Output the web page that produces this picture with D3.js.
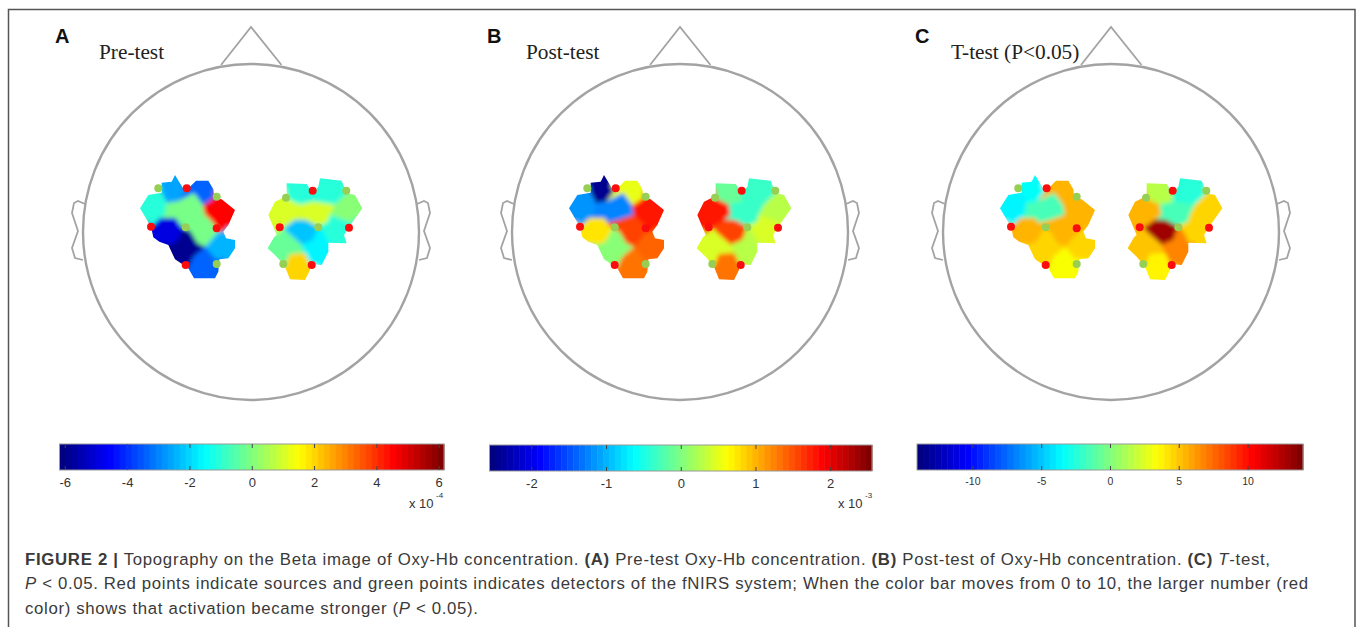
<!DOCTYPE html>
<html>
<head>
<meta charset="utf-8">
<script src="https://cdnjs.cloudflare.com/ajax/libs/d3/7.8.5/d3.min.js"></script>
<style>
  html, body { margin: 0; padding: 0; background: #fff; }
  text { fill: #333; }
  .bar-tick line { stroke: #444; stroke-width: 1; }
</style>
</head>
<body>
<div id="vis"></div>
<script>
// Optode positions in head units (head radius = 168, origin at head centre, y down)
var sourcesLeft = [[-64.3, -43.7], [-100, -5.3], [-34.3, -3.7], [-65.3, 33]];
var detectorsLeft = [[-92.7, -43.7], [-34.3, -35.3], [-65.3, -4.7], [-34.3, 32]];
var sourcesRight = [[61.7, -41.3], [28.7, -4.7], [98, -4.3], [60.7, 33]];
var detectorsRight = [[35, -34.3], [95.3, -41.3], [67.3, -4.7], [32.3, 32]];

// Channel patches traced on a grid of 1/3 head unit, one polygon per channel
var cellsLeft = [
  [[125, 98], [125, 68], [155, 65], [165, 45], [183, 75], [195, 95], [172, 125], [140, 130]],
  [[195, 95], [228, 62], [265, 62], [280, 88], [283, 115], [250, 137], [222, 100], [172, 125]],
  [[60, 145], [85, 105], [125, 98], [140, 130], [135, 165], [121, 175], [111, 185], [93, 200]],
  [[140, 130], [172, 125], [222, 100], [250, 137], [255, 165], [212, 180], [176, 190], [166, 175], [121, 175], [135, 165]],
  [[250, 137], [283, 115], [305, 118], [345, 150], [325, 195], [310, 215], [296, 215], [276, 185], [255, 165]],
  [[93, 200], [111, 185], [121, 175], [166, 175], [176, 190], [191, 205], [171, 245], [145, 255], [118, 245], [100, 232]],
  [[212, 180], [255, 165], [276, 185], [296, 215], [256, 262], [231, 250], [211, 215], [191, 205], [176, 190]],
  [[145, 255], [171, 245], [191, 205], [211, 215], [231, 250], [256, 262], [221, 290], [205, 325], [165, 298]],
  [[296, 215], [310, 215], [318, 235], [345, 240], [345, 265], [325, 295], [298, 298], [285, 297], [256, 262]],
  [[205, 325], [221, 290], [256, 262], [285, 297], [298, 298], [295, 335], [285, 355], [222, 355]]
];
var cellsRight = [
  [[500, 70], [560, 72], [578, 100], [580, 125], [540, 135], [503, 118], [500, 108]],
  [[578, 100], [595, 80], [600, 55], [665, 62], [680, 100], [645, 135], [580, 125]],
  [[445, 165], [465, 125], [500, 108], [503, 118], [540, 135], [545, 165], [525, 180], [490, 205], [470, 225]],
  [[540, 135], [580, 125], [645, 135], [630, 165], [625, 185], [595, 200], [555, 180], [525, 180], [545, 165]],
  [[645, 135], [680, 100], [705, 105], [727, 145], [695, 190], [630, 165]],
  [[490, 205], [525, 180], [555, 180], [595, 200], [580, 240], [545, 255], [505, 220]],
  [[595, 200], [625, 185], [630, 165], [695, 190], [672, 225], [680, 250], [625, 248], [610, 215]],
  [[470, 225], [490, 205], [505, 220], [545, 255], [555, 280], [510, 283], [495, 320], [470, 290], [443, 265], [462, 232]],
  [[595, 200], [610, 215], [625, 248], [625, 275], [605, 315], [570, 312], [555, 280], [545, 255], [580, 240]],
  [[495, 320], [510, 283], [555, 280], [570, 312], [570, 330], [555, 360], [510, 358]]
];

// Channel values, same order as the patches above (colour bar units)
var preLeft = [-2.6, -3.3, -1.0, -0.1, 4.6, -4.9, -0.1, -5.9, -2.5, -3.4];
var preRight = [-1.1, -1.1, 1.1, 1.1, 0, -2.3, -1.1, -0.2, -1.7, 2.0];
var postLeft = [-2.45, 0.5, -1.18, -1.28, 1.8, 0.72, 1.54, 0, 1.4, 1.28];
var postRight = [-0.15, -0.4, 1.8, -0.4, 0.25, 1.54, 0.46, 0.42, 0.25, 1.28];
var tLeft = [-3.5, 5.6, -3.6, -1.7, 5.6, 5.6, 5.6, 4.5, 4.5, 3.5];
var tRight = [1.4, -2.2, 5.6, -1.7, 4.8, 13, 4.8, 5.2, 6.7, 3.9];

// Head drawing, head units
var nosePoints = [[-30, -167], [0, -205], [30.5, -167]];
var earPoints = [[-166, -28], [-173, -31], [-177, -29], [-179, -19], [-173, -1], [-179, 16], [-176, 26], [-168, 28]];

// Colour bars
var preTicks = [-6, -4, -2, 0, 2, 4, 6];
var postTicks = [-2, -1, 0, 1, 2];
var tTicks = [-10, -5, 0, 5, 10];
var jetColors = ["#000080", "#0000ff", "#00ffff", "#ffff00", "#ff0000", "#800000"];
var jetStops = [0, 0.125, 0.375, 0.625, 0.875, 1];

var panels = [
  {letter: "A", letterX: 55, title: "Pre-test", titleX: 99, cx: 251, left: preLeft, right: preRight, max: 6.17,
   barX: [59.5, 444], barY: 444, ticks: preTicks, tickFont: 13, exp: "-4", expX: 409},
  {letter: "B", letterX: 487, title: "Post-test", titleX: 526, cx: 680, left: postLeft, right: postRight, max: 2.56,
   barX: [489.5, 872], barY: 445, ticks: postTicks, tickFont: 13, exp: "-3", expX: 838},
  {letter: "C", letterX: 915, title: "T-test (P<0.05)", titleX: 951, cx: 1111, left: tLeft, right: tRight, max: 14.03,
   barX: [917, 1303], barY: 444, ticks: tTicks, tickFont: 10.5, exp: null}
];

var width = 1357, height = 627;
var headR = 168, headCy = 232;

var svg = d3.select("#vis").append("svg")
    .attr("width", width)
    .attr("height", height)
    .style("display", "block");

var defs = svg.append("defs");
var blur = defs.append("filter").attr("id", "soften")
    .attr("x", "-20%").attr("y", "-20%").attr("width", "140%").attr("height", "140%");
blur.append("feGaussianBlur").attr("stdDeviation", 2);

// jet colour map, 64 steps like the matlab one
var jet = d3.scaleLinear().domain(jetStops).range(jetColors).interpolate(d3.interpolateRgb);
var levels = d3.range(64);

// tracing grid to head units
var gridX = d3.scaleLinear().domain([0, 3]).range([-131, -130]);
var gridY = d3.scaleLinear().domain([0, 3]).range([-72, -71]);

// outer frame, open at the bottom
svg.append("path")
    .attr("d", d3.line()([[8.5, height], [8.5, 9.5], [1355, 9.5], [1355, height]]))
    .attr("fill", "none")
    .attr("stroke", "#555")
    .attr("stroke-width", 1.5);

panels.forEach(function(p, i) {
  var g = svg.append("g");
  var x = d3.scaleLinear().domain([-headR, headR]).range([p.cx - headR, p.cx + headR]);
  var y = d3.scaleLinear().domain([-headR, headR]).range([headCy - headR, headCy + headR]);
  var line = d3.line().x(function(d) { return x(d[0]); }).y(function(d) { return y(d[1]); });
  var cellLine = d3.line()
      .x(function(d) { return x(gridX(d[0])); })
      .y(function(d) { return y(gridY(d[1])); })
      .curve(d3.curveLinearClosed);
  var color = function(v) {
    var t = (v + p.max) / (2 * p.max);
    return jet(Math.min(63, Math.floor(t * 64)) / 63);
  };

  // panel letter and title
  g.append("text").attr("x", p.letterX).attr("y", 43)
      .style("font-family", "'Liberation Sans', sans-serif")
      .style("font-weight", "bold").style("font-size", "20px").style("fill", "#111")
      .text(p.letter);
  g.append("text").attr("x", p.titleX).attr("y", 59)
      .style("font-family", "'Liberation Serif', serif")
      .style("font-size", "21.3px").style("fill", "#222")
      .text(p.title);

  // head
  var headG = g.append("g").attr("fill", "none").attr("stroke", "#a3a3a3");
  headG.append("circle").attr("cx", x(0)).attr("cy", y(0)).attr("r", x(headR) - x(0)).attr("stroke-width", 2.4);
  headG.append("path").attr("d", line(nosePoints)).attr("stroke-width", 1.8);
  headG.append("path").attr("d", line(earPoints)).attr("stroke-width", 1.8);
  headG.append("path").attr("d", line(earPoints.map(function(d) { return [-d[0], d[1]]; }))).attr("stroke-width", 1.8);

  // one hemisphere: patch per channel, softened and cut back to the patches' own edge
  var hemispheres = [
    {sources: sourcesLeft, detectors: detectorsLeft, cells: cellsLeft, values: p.left},
    {sources: sourcesRight, detectors: detectorsRight, cells: cellsRight, values: p.right}
  ];
  hemispheres.forEach(function(h, j) {
    var clipId = "clip-" + i + "-" + j;
    defs.append("clipPath").attr("id", clipId)
        .selectAll("path").data(h.cells).enter().append("path")
        .attr("d", function(d) { return cellLine(d); });

    var soft = g.append("g").attr("clip-path", "url(#" + clipId + ")")
      .append("g").attr("filter", "url(#soften)");
    // fat strokes underneath so the blur does not fade at the outer edge
    soft.selectAll(".under").data(h.values).enter().append("path")
        .attr("class", "under")
        .attr("d", function(d, k) { return cellLine(h.cells[k]); })
        .attr("fill", "none")
        .attr("stroke", function(d) { return color(d); })
        .attr("stroke-width", 14);
    soft.selectAll(".cell").data(h.values).enter().append("path")
        .attr("class", "cell")
        .attr("d", function(d, k) { return cellLine(h.cells[k]); })
        .attr("fill", function(d) { return color(d); })
        .attr("stroke", function(d) { return color(d); })
        .attr("stroke-width", 0.5);

    // optodes
    g.selectAll(null).data(h.detectors).enter().append("circle")
        .attr("cx", function(d) { return x(d[0]); })
        .attr("cy", function(d) { return y(d[1]); })
        .attr("r", 4)
        .attr("fill", "#97cf55");
    g.selectAll(null).data(h.sources).enter().append("circle")
        .attr("cx", function(d) { return x(d[0]); })
        .attr("cy", function(d) { return y(d[1]); })
        .attr("r", 4)
        .attr("fill", "#fb0d0d");
  });

  // colour bar
  var barH = 26;
  var bx = d3.scaleLinear().domain([-p.max, p.max]).range(p.barX);
  var band = d3.scaleBand().domain(levels).range(p.barX);
  var barG = g.append("g").attr("transform", "translate(0," + p.barY + ")");
  barG.selectAll("rect").data(levels).enter().append("rect")
      .attr("x", function(d) { return band(d); })
      .attr("y", 0)
      .attr("width", band.bandwidth() + 0.5)
      .attr("height", barH)
      .attr("fill", function(d) { return jet(d / 63); });
  barG.append("rect")
      .attr("x", p.barX[0]).attr("y", 0)
      .attr("width", p.barX[1] - p.barX[0]).attr("height", barH)
      .attr("fill", "none").attr("stroke", "#999").attr("stroke-width", 1);

  var bottomAxis = d3.axisBottom(bx).tickValues(p.ticks).tickSize(-4).tickPadding(8)
      .tickFormat(function(d) { return String(d); });
  var topAxis = d3.axisTop(bx).tickValues(p.ticks).tickSize(-4).tickFormat("");
  var bAxis = barG.append("g").attr("class", "bar-tick").attr("transform", "translate(0," + barH + ")").call(bottomAxis);
  bAxis.select(".domain").remove();
  bAxis.selectAll("text")
      .style("font-family", "'Liberation Sans', sans-serif")
      .style("font-size", p.tickFont + "px");
  var tAxis = barG.append("g").attr("class", "bar-tick").call(topAxis);
  tAxis.select(".domain").remove();

  if (p.exp) {
    g.append("text").attr("x", p.expX).attr("y", 508)
        .style("font-family", "'Liberation Sans', sans-serif").style("font-size", "13px")
        .text("x 10");
    g.append("text").attr("x", p.expX + 27).attr("y", 497.5)
        .style("font-family", "'Liberation Sans', sans-serif").style("font-size", "8px")
        .text(p.exp);
  }
});

// caption
var captionLines = [
  [["FIGURE 2 |", "b"], [" Topography on the Beta image of Oxy-Hb concentration. ", ""], ["(A)", "b"], [" Pre-test Oxy-Hb concentration. ", ""], ["(B)", "b"], [" Post-test of Oxy-Hb concentration. ", ""], ["(C)", "b"], [" ", ""], ["T", "i"], ["-test,", ""]],
  [["P", "i"], [" < 0.05. Red points indicate sources and green points indicates detectors of the fNIRS system; When the color bar moves from 0 to 10, the larger number (red", ""]],
  [["color) shows that activation became stronger (", ""], ["P", "i"], [" < 0.05).", ""]]
];
var captionY = [565, 589, 614];
var captionW = [1245, 1283, 453];

captionLines.forEach(function(parts, i) {
  var t = svg.append("text")
      .attr("x", 25)
      .attr("y", captionY[i])
      .attr("textLength", captionW[i])
      .attr("lengthAdjust", "spacing")
      .attr("xml:space", "preserve")
      .style("white-space", "pre")
      .style("font-family", "'Liberation Sans', sans-serif")
      .style("font-size", "16.8px")
      .style("fill", "#3a3a3a");
  parts.forEach(function(s) {
    t.append("tspan")
        .style("font-weight", s[1] == "b" ? "bold" : "normal")
        .style("font-style", s[1] == "i" ? "italic" : "normal")
        .text(s[0]);
  });
});
</script>
</body>
</html>
